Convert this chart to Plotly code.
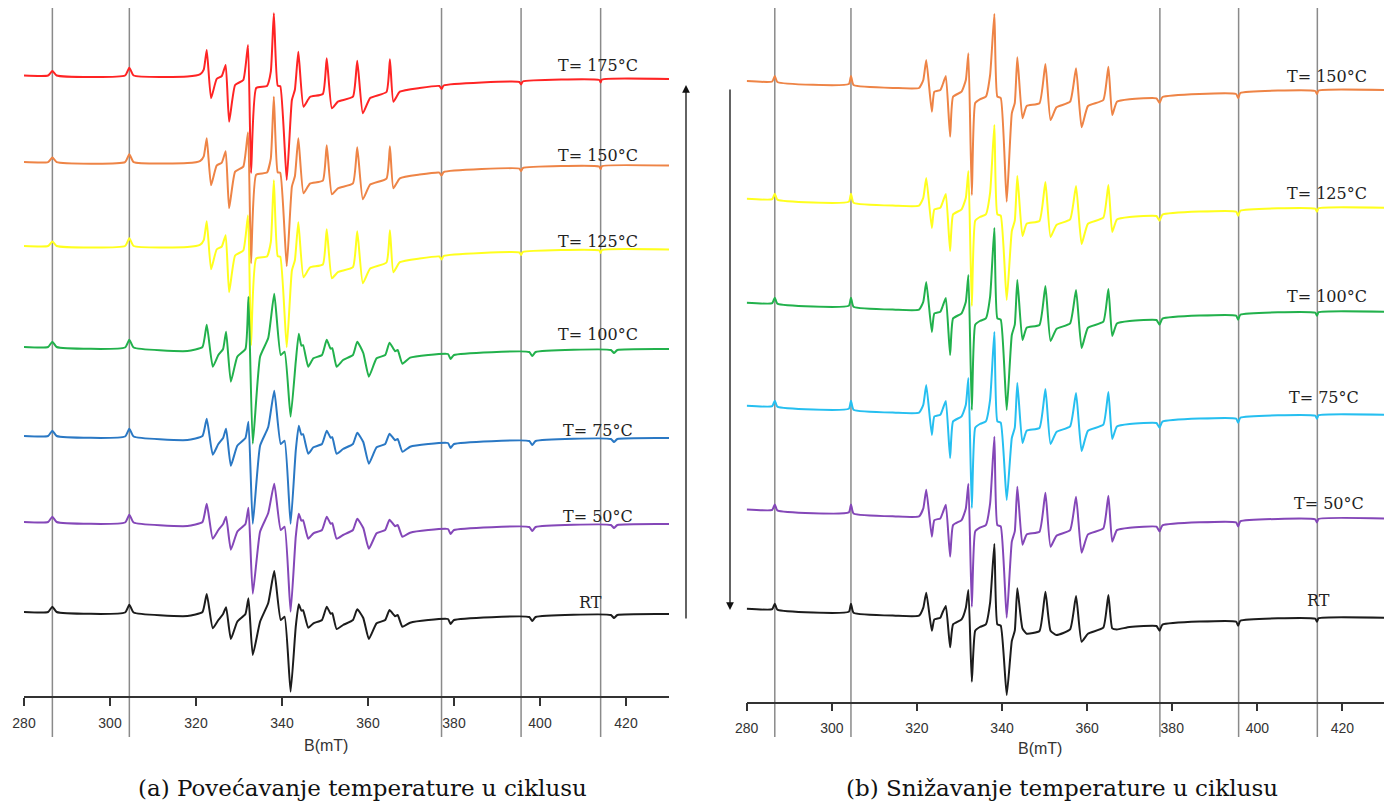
import plotly.graph_objects as go

# ---------------- data ----------------
# Tick labels of the field axis (mT)
tick_vals = [280, 300, 320, 340, 360, 380, 400, 420]
# Field positions of the vertical reference lines (mT)
ref_lines = [286.6, 304.5, 377.1, 395.6, 414.1]

# Line-shape templates: (B in mT, relative intensity) ; 'uN'/'dN' = N-th line maximum/minimum
tmpl_hi_B = [280, 285.6, 286.6, 287.6, 303.5, 304.5, 305.5, 318, 321.0, 321.8, 322.5, 323.5, 324.8, 326.0,
             326.9, 327.7, 329.1, 331.0, 332.1, 332.8, 334.0, 336.5, 337.4, 338.1, 339.0, 339.6, 341.1,
             342.3, 343.0, 343.8, 345.0, 346.5, 349.5, 350.4, 351.6, 353.0, 356.5, 357.5, 358.8, 360.5,
             364.3, 365.1, 365.9, 367.4, 372, 376.6, 377.1, 377.6, 395.2, 395.6, 396.0, 413.8, 414.1,
             414.4, 430]
tmpl_hi_I = [1.2, 1.2, 5.7, 1.2, 1.2, 9, 1.2, 0.2, 2.5, 7, 'u0', 'd0', -2.3, 0.7,
             'u1', 'd1', -8.3, -3.3, 'u2', 'd2', -11.3, -9.3, 5, 'u3', -9, -9.5, 'd3',
             -23.3, -13, 'u4', 'd4', -20.3, -17.3, 'u5', 'd5', -25, -20, 'u6', 'd6', -21.3,
             -15.3, 'u7', 'd7', -15, -11.3, -9.3, -12.3, -8.8, -5.3, -7.8, -4.8, -3.3, -5.8,
             -2.8, -2.3]

tmpl_lo_B = [280, 285.6, 286.6, 287.6, 303.5, 304.5, 305.5, 318, 321.5, 322.5, 323.9, 325.2, 326.3,
             327.0, 328.1, 329.6, 331.5, 332.2, 333.2, 334.9, 336.8, 338.2, 339.7, 340.6, 342.0,
             343.2, 343.9, 344.5, 344.9, 346.1, 347.3, 349.3, 350.4, 351.3, 351.7, 352.7, 354.2,
             356.5, 357.5, 358.9, 360.2, 362.0, 364.0, 365.0, 366.3, 366.9, 368.0, 369.8, 374,
             378.6, 379.2, 380, 397.5, 398.2, 399, 416.5, 417.2, 418, 430]
tmpl_lo_I = [4.7, 4.7, 10, 4.7, 4.2, 12, 4.2, 0.7, 4.7, 'u0', 'd0', -3.3, 2.7,
             'u1', 'd1', -5, 2.7, 'u2', 'd2', -5, 13.7, 'u3', -3.3, 0, 'd3',
             -10, 'u4', 6, 6.5, 'd4', -6.6, -3.3, 'u5', 3, 3.5, 'd5', -8.3,
             -3.3, 'u6', -1.3, 'd6', -6.6, -3.3, 'u7', 0.5, 1.7, 'd7', -6, -3.3,
             -2.3, -7.3, -3.3, -0.3, -4.3, -0.3, 1.7, -1.3, 1.7, 2.7]

tmpl_b_B = [280, 286.0, 286.6, 287.2, 304.0, 304.5, 305.1, 315, 320.5, 321.5, 322.2, 323.5, 324.1,
            325.5, 326.1, 326.8, 327.8, 328.5, 330.5, 331.5, 332.1, 332.9, 333.7, 334.8, 336.2,
            337.2, 338.2, 338.9, 339.7, 341.1, 342.3, 343.0, 343.6, 344.8, 345.8, 348.8, 350.2,
            351.4, 352.8, 356.0, 357.4, 358.7, 360.2, 363.8, 365.0, 365.9, 367.0, 370, 376.3,
            377.0, 377.7, 395.0, 395.5, 396.0, 413.6, 414.0, 414.4, 430]
tmpl_b_I = [7.3, 6.8, 12.3, 6.3, 4.3, 12.3, 3.3, 0.3, 0.3, 8.3, 'u0', 'd0', -3.4,
            -1.7, 4.3, 'u1', 'd1', -8.4, -3.4, 8.3, 'u2', 'd2', -14.7, -11, -8.4,
            13.3, 'u3', -8.4, -9.7, 'd3', -25, -14.7, 'u4', 'd4', -17.7, -15, 'u5',
            'd5', -19, -13.4, 'u6', 'd6', -17.7, -11.7, 'u7', 'd7', -13.4, -11, -10,
            -14.7, -8.7, -5.7, -9.7, -4.7, -2.7, -5.7, -2.2, -1.7]

# Panel (a): temperature increase
a_labels = ["T= 175°C", "T= 150°C", "T= 125°C", "T= 100°C", "T= 75°C", "T= 50°C", "RT"]
a_up = [[26.7, 11.7, 31.7, 63.4, 25, 18.4, 16, 17.4],
        [25, 12, 31, 66.6, 25, 18, 16, 17],
        [26, 12, 32, 67, 25, 18, 16, 17],
        [27, 20, 55, 58, 18, 12, 10, 9],
        [22, 12, 19, 50, 15, 10, 8, 7],
        [23, 10, 19, 43, 13, 10, 8, 7],
        [22.7, 9.4, 18.4, 45.7, 12.4, 10, 7.4, 6.7]]
a_dn = [[-21.6, -45, -96.3, -103.3, -30, -31.6, -36.6, -25],
        [-22, -45, -100, -103, -30, -31, -36, -25],
        [-22, -45, -98, -100, -30, -31, -36, -25],
        [-15, -30, -92, -65, -15, -15, -25, -12],
        [-14, -25, -83, -83, -13, -13, -23, -11],
        [-12, -23, -67, -85, -12, -12, -22, -10],
        [-11.6, -22.3, -38.3, -75, -11, -12.3, -22.3, -10]]

# Panel (b): temperature decrease
b_labels = ["T= 150°C", "T= 125°C", "T= 100°C", "T= 75°C", "T= 50°C", "RT"]
b_up = [[28.3, 12.3, 35, 74.3, 31, 24.3, 20, 21.6],
        [28, 12, 35, 81, 30, 24, 20, 21],
        [28, 12, 35, 82, 30, 24, 20, 21],
        [28, 12, 35, 81, 30, 24, 20, 21],
        [27, 12, 33, 80, 30, 24, 20, 21],
        [23.3, 10, 26, 72, 27.7, 24.3, 20, 21]]
b_dn = [[-23.4, -48.4, -106.7, -113.4, -30, -31.7, -39, -26.7],
        [-22, -45, -100, -94, -30, -31, -38, -26],
        [-22, -45, -100, -100, -30, -31, -38, -26],
        [-22, -45, -95, -87, -30, -31, -38, -26],
        [-20, -40, -90, -101, -28, -30, -36, -25],
        [-14.7, -31.3, -65.7, -79, -12.3, -14.7, -25.7, -12.3]]

# ---------------- styling / layout ----------------
W, H = 1392, 810
OFF = 8  # page offset of the plot div
a_colors = ["#ff2424", "#ee8446", "#ffff1e", "#22b14c", "#2a78c4", "#8447b8", "#1c1c1c"]
b_colors = ["#ee8446", "#ffff1e", "#22b14c", "#26bff0", "#8447b8", "#1c1c1c"]
a_tmpl = ["hi", "hi", "hi", "lo", "lo", "lo", "lo"]
a_base = [76.7, 163.3, 247.2, 351.7, 440.7, 526.7, 616.7]   # pixel rows of baselines
b_base = [88.3, 206.0, 310.0, 413.0, 516.7, 616.0]
a_lab_pos = [(598, 65), (598, 155), (598, 241), (598, 334), (598, 430), (598, 516), (590, 602)]
b_lab_pos = [(1327, 77), (1327, 193), (1327, 297), (1324, 397), (1329, 503), (1318, 600)]

templates = {"hi": (tmpl_hi_B, tmpl_hi_I), "lo": (tmpl_lo_B, tmpl_lo_I), "b": (tmpl_b_B, tmpl_b_I)}


def fx(x):
    return (x - OFF) / W


def fy(y):
    return 1 - (y - OFF) / H


def build(tname, up, dn):
    Bs, Is = templates[tname]
    out = []
    for v in Is:
        if isinstance(v, str):
            k = int(v[1])
            out.append(up[k] if v[0] == 'u' else dn[k])
        else:
            out.append(v)
    return Bs, out


fig = go.Figure()

AX_A = 696.0
AX_B = 701.7
for i in range(len(a_labels)):
    Bs, Is = build(a_tmpl[i], a_up[i], a_dn[i])
    fig.add_trace(go.Scatter(x=Bs, y=[-a_base[i] + v for v in Is], mode="lines",
                             line=dict(color=a_colors[i], width=2, shape="spline", smoothing=0.45),
                             xaxis="x", yaxis="y", showlegend=False, hoverinfo="skip"))
for i in range(len(b_labels)):
    Bs, Is = build("b", b_up[i], b_dn[i])
    fig.add_trace(go.Scatter(x=Bs, y=[-b_base[i] + v for v in Is], mode="lines",
                             line=dict(color=b_colors[i], width=2, shape="spline", smoothing=0.45),
                             xaxis="x2", yaxis="y2", showlegend=False, hoverinfo="skip"))

axis_common = dict(range=[280, 430], tickvals=tick_vals, ticks="outside", ticklen=8, tickwidth=1.5,
                   tickcolor="#333", showline=True, linecolor="#333", linewidth=1.5, showgrid=False,
                   zeroline=False, ticklabelstandoff=5, automargin=False,
                   tickfont=dict(family="Liberation Sans, Arial", size=14, color="#333"))
fig.update_layout(
    width=W, height=H, margin=dict(l=0, r=0, t=0, b=0, autoexpand=False),
    paper_bgcolor="white", plot_bgcolor="white", showlegend=False,
    xaxis=dict(domain=[fx(24), fx(669)], anchor="y", **axis_common),
    yaxis=dict(domain=[fy(AX_A), 1], range=[-AX_A, -OFF], visible=False, anchor="x"),
    xaxis2=dict(domain=[fx(746.7), fx(1385)], anchor="y2", **axis_common),
    yaxis2=dict(domain=[fy(AX_B), 1], range=[-AX_B, -OFF], visible=False, anchor="x2"),
)

shapes = []
for xr in ["x", "x2"]:
    for b in ref_lines:
        shapes.append(dict(type="line", xref=xr, yref="paper", x0=b, x1=b, y0=fy(737), y1=fy(0),
                           line=dict(color="#8a8a8a", width=1.5), layer="below"))
fig.update_layout(shapes=shapes)

ann = []


def label(x, y, t, family, size, color):
    return dict(x=fx(x), y=fy(y), xref="paper", yref="paper", text=t, showarrow=False,
                xanchor="center", yanchor="middle", font=dict(family=family, size=size, color=color))


for (x, y), t in zip(a_lab_pos, a_labels):
    ann.append(label(x, y, t, "DejaVu Serif", 16, "#222"))
for (x, y), t in zip(b_lab_pos, b_labels):
    ann.append(label(x, y, t, "DejaVu Serif", 16, "#222"))
for x, y in [(326, 745), (1040, 748)]:
    ann.append(label(x, y, "B(mT)", "Liberation Sans, Arial", 16, "#333"))
for x, t in [(362, "(a) Povećavanje temperature u ciklusu"), (1062, "(b) Snižavanje temperature u ciklusu")]:
    ann.append(label(x, 788, t, "DejaVu Serif", 23, "#111"))
# arrows
ann.append(dict(x=fx(686), y=fy(85), xref="paper", yref="paper", ax=0, ay=535, text="",
                showarrow=True, arrowhead=2, arrowsize=1.2, arrowwidth=1.3, arrowcolor="#111"))
ann.append(dict(x=fx(730), y=fy(610), xref="paper", yref="paper", ax=0, ay=-522, text="",
                showarrow=True, arrowhead=2, arrowsize=1.2, arrowwidth=1.3, arrowcolor="#111"))
fig.update_layout(annotations=ann)

fig.write_html("out.html")
